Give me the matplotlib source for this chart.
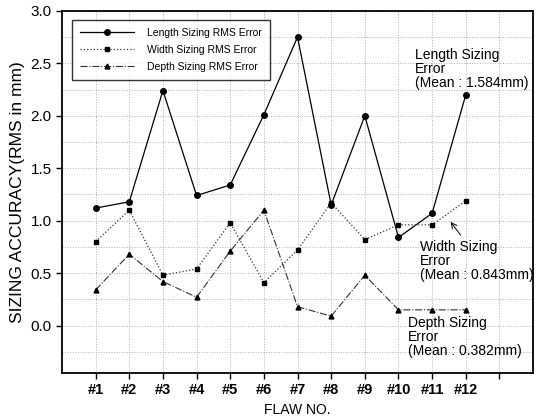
import matplotlib
matplotlib.use("Agg")
import matplotlib.pyplot as plt
import numpy as np

plt.rcParams['font.family'] = ['Liberation Sans', 'DejaVu Sans']

flaws = ["#1", "#2", "#3", "#4", "#5", "#6", "#7", "#8", "#9", "#10", "#11", "#12"]
length_err = [1.12, 1.18, 2.24, 1.24, 1.34, 2.01, 2.75, 1.15, 2.00, 0.84, 1.07, 2.20]
width_err = [0.80, 1.10, 0.48, 0.54, 0.98, 0.41, 0.72, 1.17, 0.82, 0.96, 0.96, 1.19]
depth_err = [0.34, 0.68, 0.42, 0.27, 0.71, 1.10, 0.18, 0.09, 0.48, 0.15, 0.15, 0.15]

x = np.arange(1, len(flaws) + 1)

fig = plt.figure(figsize=(5.39, 4.17), dpi=100)
ax = fig.add_axes([0.115, 0.106, 0.874, 0.868])

ax.plot(x, length_err, '-', color='black', lw=0.9, marker='o', ms=4, label='Length Sizing RMS Error')
ax.plot(x, width_err, ':', color='#333333', lw=0.9, marker='s', ms=3.5, mfc='black', mec='black', label='Width Sizing RMS Error')
ax.plot(x, depth_err, '-.', color='#333333', lw=0.8, marker='^', ms=3.5, mfc='black', mec='black', label='Depth Sizing RMS Error')

ax.set_xlim(0, 14)
ax.set_ylim(-0.45, 3.0)
ax.set_xticks(list(x) + [13])
ax.set_xticklabels(flaws + [""], fontsize=10.5, fontweight='bold')
ax.set_yticks(np.arange(0, 3.01, 0.5))
ax.set_yticklabels([f"{v:.1f}" for v in np.arange(0, 3.01, 0.5)], fontsize=11)
ax.set_yticks(np.arange(-0.25, 3.0, 0.25), minor=True)
ax.tick_params(axis='y', which='minor', length=0)
ax.tick_params(axis='both', which='major', direction='out', length=4, width=1)

ax.grid(True, which='both', linestyle=':', color='#b0b0b0', lw=0.7)
ax.set_axisbelow(True)
for s in ax.spines.values():
    s.set_linewidth(1.3)

ax.set_xlabel("FLAW NO.", fontsize=10)
ax.set_ylabel("SIZING ACCURACY(RMS in mm)", fontsize=12.5)

leg = ax.legend(loc='upper left', fontsize=7.5, frameon=True, fancybox=False,
                edgecolor='black', handlelength=5.2, handletextpad=1.2,
                borderpad=0.8, labelspacing=0.65,
                bbox_to_anchor=(0.01, 0.99))
leg.get_frame().set_linewidth(1.0)

ax.text(10.5, 2.65, "Length Sizing\nError\n(Mean : 1.584mm)", fontsize=10, va='top', ha='left', linespacing=1.0)
ax.text(10.65, 0.82, "Width Sizing\nError\n(Mean : 0.843mm)", fontsize=10, va='top', ha='left', linespacing=1.0)
ax.text(10.27, 0.09, "Depth Sizing\nError\n(Mean : 0.382mm)", fontsize=10, va='top', ha='left', linespacing=1.0)
ax.annotate("", xy=(11.5, 1.01), xytext=(11.9, 0.84),
            arrowprops=dict(arrowstyle='->', color='black', lw=0.7))

fig.savefig("out.png", dpi=100)
